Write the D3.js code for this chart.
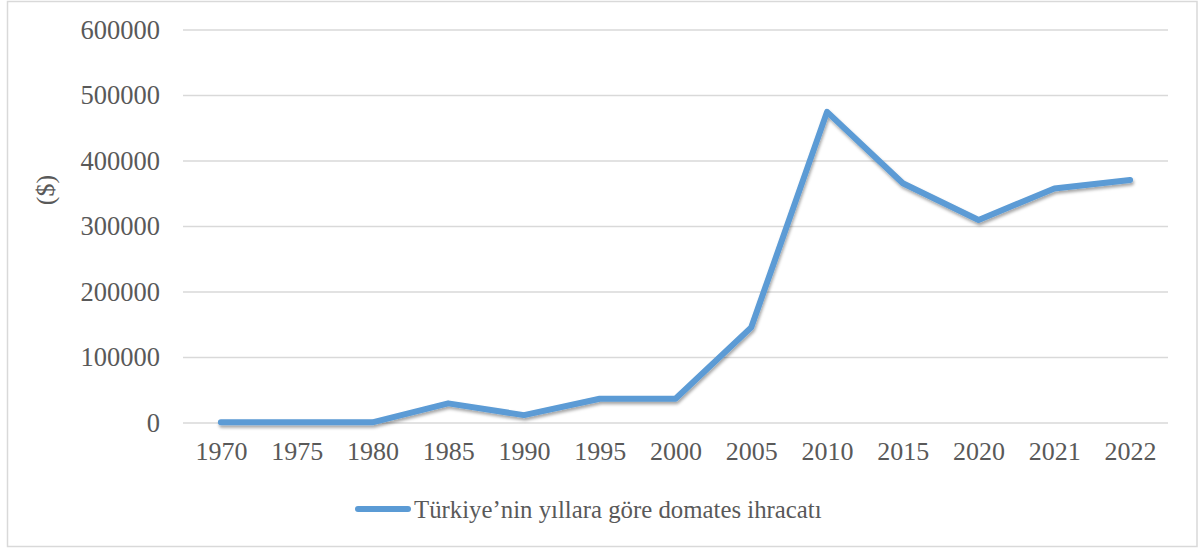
<!DOCTYPE html>
<html>
<head>
<meta charset="utf-8">
<script src="https://cdn.jsdelivr.net/npm/d3@7"></script>
<style>
  html, body { margin: 0; padding: 0; background: #fff; }
  svg { display: block; }
</style>
</head>
<body>
<script>
const years = ["1970","1975","1980","1985","1990","1995","2000","2005","2010","2015","2020","2021","2022"];
const exportValues = [1000, 1000, 1000, 30000, 12000, 37000, 37000, 146000, 475000, 366000, 310000, 358000, 371000];
const yTicks = [0, 100000, 200000, 300000, 400000, 500000, 600000];
const seriesName = "Türkiye’nin yıllara göre domates ihracatı";
const yAxisTitle = "($)";

(function () {
const W = 1202, H = 549;
const svg = d3.select("body").append("svg").attr("width", W).attr("height", H);

const defs = svg.append("defs");
const f = defs.append("filter").attr("id", "shadow").attr("x", "-10%").attr("y", "-10%").attr("width", "120%").attr("height", "130%");
f.append("feDropShadow").attr("dx", 1).attr("dy", 2.5).attr("stdDeviation", 1.8).attr("flood-color", "#000").attr("flood-opacity", 0.35);

// chart border
svg.append("rect").attr("x", 7.5).attr("y", 1.5).attr("width", 1189.5).attr("height", 545)
  .attr("fill", "#fff").attr("stroke", "#D9D9D9").attr("stroke-width", 1.5);

const pLeft = 183, pRight = 1168, pTop = 30, pBottom = 423;
const font = "'Liberation Serif', 'Times New Roman', serif";
const textColor = "#595959";

const x = d3.scalePoint().domain(years).range([pLeft, pRight]).padding(0.5);
const y = d3.scaleLinear().domain([0, 600000]).range([pBottom, pTop]);

// gridlines
svg.append("g").selectAll("line").data(yTicks).join("line")
  .attr("x1", pLeft).attr("x2", pRight)
  .attr("y1", d => y(d)).attr("y2", d => y(d))
  .attr("stroke", "#D9D9D9").attr("stroke-width", 1.5);

// y axis labels
const yAxis = d3.axisLeft(y).tickValues(yTicks).tickSize(0).tickPadding(0).tickFormat(d3.format("d"));
const yg = svg.append("g").attr("transform", `translate(${pLeft - 23},0)`).call(yAxis);
yg.select(".domain").remove();
yg.selectAll("text").attr("font-family", font).attr("font-size", 26.5).attr("fill", textColor);

// x axis labels
const xAxis = d3.axisBottom(x).tickSize(0).tickPadding(0);
const xg = svg.append("g").attr("transform", `translate(0,${pBottom + 19})`).call(xAxis);
xg.select(".domain").remove();
xg.selectAll("text").attr("font-family", font).attr("font-size", 26).attr("fill", textColor);

// y axis title
svg.append("text").attr("transform", `translate(54,190) rotate(-90)`)
  .attr("text-anchor", "middle").attr("font-family", font).attr("font-size", 26).attr("fill", textColor)
  .text(yAxisTitle);

// line
const line = d3.line().x((d, i) => x(years[i])).y(d => y(d));
svg.append("path").datum(exportValues)
  .attr("d", line).attr("fill", "none")
  .attr("stroke", "#5B9BD5").attr("stroke-width", 6)
  .attr("stroke-linejoin", "round").attr("stroke-linecap", "round")
  .attr("filter", "url(#shadow)");

// legend
const lg = svg.append("g");
lg.append("line").attr("x1", 358).attr("x2", 408).attr("y1", 509).attr("y2", 509)
  .attr("stroke", "#5B9BD5").attr("stroke-width", 6).attr("stroke-linecap", "round");
lg.append("text").attr("x", 414).attr("y", 518).attr("font-family", font).attr("font-size", 24.8)
  .attr("fill", textColor).text(seriesName);
})();
</script>
</body>
</html>
